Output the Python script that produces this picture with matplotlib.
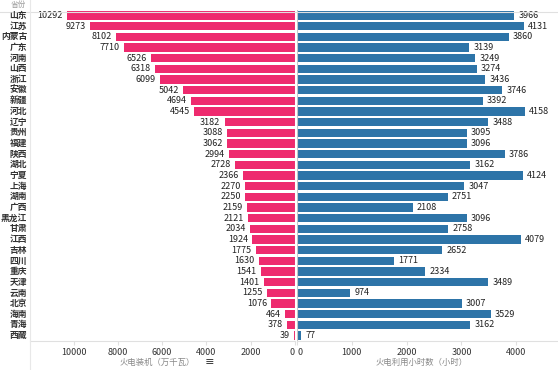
import matplotlib
matplotlib.use("Agg")
import matplotlib.pyplot as plt

plt.rcParams['font.family'] = ['Noto Sans CJK SC', 'DejaVu Sans']

provinces = ["山东", "江苏", "内蒙古", "广东", "河南", "山西", "浙江", "安徽", "新疆", "河北",
             "辽宁", "贵州", "福建", "陕西", "湖北", "宁夏", "上海", "湖南", "广西", "黑龙江",
             "甘肃", "江西", "吉林", "四川", "重庆", "天津", "云南", "北京", "海南", "青海", "西藏"]
capacity = [10292, 9273, 8102, 7710, 6526, 6318, 6099, 5042, 4694, 4545,
            3182, 3088, 3062, 2994, 2728, 2366, 2270, 2250, 2159, 2121,
            2034, 1924, 1775, 1630, 1541, 1401, 1255, 1076, 464, 378, 39]
hours = [3966, 4131, 3860, 3139, 3249, 3274, 3436, 3746, 3392, 4158,
         3488, 3095, 3096, 3786, 3162, 4124, 3047, 2751, 2108, 3096,
         2758, 4079, 2652, 1771, 2334, 3489, 974, 3007, 3529, 3162, 77]
left_ticks = [10000, 8000, 6000, 4000, 2000, 0]
right_ticks = [0, 1000, 2000, 3000, 4000]
left_title = "火电装机（万千瓦）"
right_title = "火电利用小时数（小时）"
header = "省份"

W, H = 558, 370
fig = plt.figure(figsize=(W / 100, H / 100), dpi=100)
fig.patch.set_facecolor("white")

top, bottom = 10, 341
axL = fig.add_axes([30 / W, 1 - bottom / H, (295 - 30) / W, (bottom - top) / H])
axR = fig.add_axes([297 / W, 1 - bottom / H, (558 - 297) / W, (bottom - top) / H])

pink = "#EE2A6E"
blue = "#2D74A8"
n = len(provinces)
ys = list(range(n))

axL.barh(ys, capacity, height=0.78, color=pink)
axR.barh(ys, hours, height=0.78, color=blue)

for ax in (axL, axR):
    ax.set_ylim(n - 0.5, -0.5)
    ax.set_yticks([])
    for s in ("top", "right", "left"):
        ax.spines[s].set_visible(False)
    ax.spines["bottom"].set_color("#E0E0E0")
    ax.tick_params(axis="x", length=3, color="#E0E0E0", labelsize=6.5,
                   labelcolor="#333333", pad=2)
    ax.patch.set_alpha(0)

axL.set_xlim(11970, 0)
axR.set_xlim(0, 4760)
axL.set_xticks(left_ticks)
axL.set_xticklabels([str(t) for t in left_ticks])
axR.set_xticks(right_ticks)
axR.set_xticklabels([str(t) for t in right_ticks])
# separate the two "0" labels at the shared centre
axL.get_xticklabels()[-1].set_horizontalalignment("right")
axR.get_xticklabels()[0].set_horizontalalignment("left")

axL.axvline(0, color="#C8C8C8", lw=0.8)
axR.axvline(0, color="#C8C8C8", lw=0.8)

for y, v in zip(ys, capacity):
    axL.annotate(str(v), (v, y), xytext=(-3, 0), textcoords="offset points",
                 ha="right", va="center", fontsize=6.5, color="#222222")
for y, v in zip(ys, hours):
    axR.annotate(str(v), (v, y), xytext=(3, 0), textcoords="offset points",
                 ha="left", va="center", fontsize=6.5, color="#222222")

# province labels
for y, p in zip(ys, provinces):
    ypix = top + (y + 0.5) * (bottom - top) / n
    fig.text(27 / W, 1 - ypix / H, p, ha="right", va="center", fontsize=6.3,
             fontweight="bold", color="#333333")

fig.text(18 / W, 1 - 5 / H, header, ha="center", va="center", fontsize=5.5, color="#999999")

# frame lines
fig.add_artist(plt.Line2D([0, 1], [1 - 12 / H, 1 - 12 / H], color="#E0E0E0", lw=0.8))
fig.add_artist(plt.Line2D([30 / W, 30 / W], [0, 1], color="#E8E8E8", lw=0.8))

fig.text(157 / W, 1 - 362 / H, left_title, ha="center", va="center", fontsize=6, color="#888888")
fig.text(210 / W, 1 - 361 / H, "≡", ha="center", va="center", fontsize=7, color="#333333",
         fontweight="bold")
fig.text(422 / W, 1 - 362 / H, right_title, ha="center", va="center", fontsize=6, color="#888888")

fig.savefig("out.png", dpi=100, facecolor="white")
